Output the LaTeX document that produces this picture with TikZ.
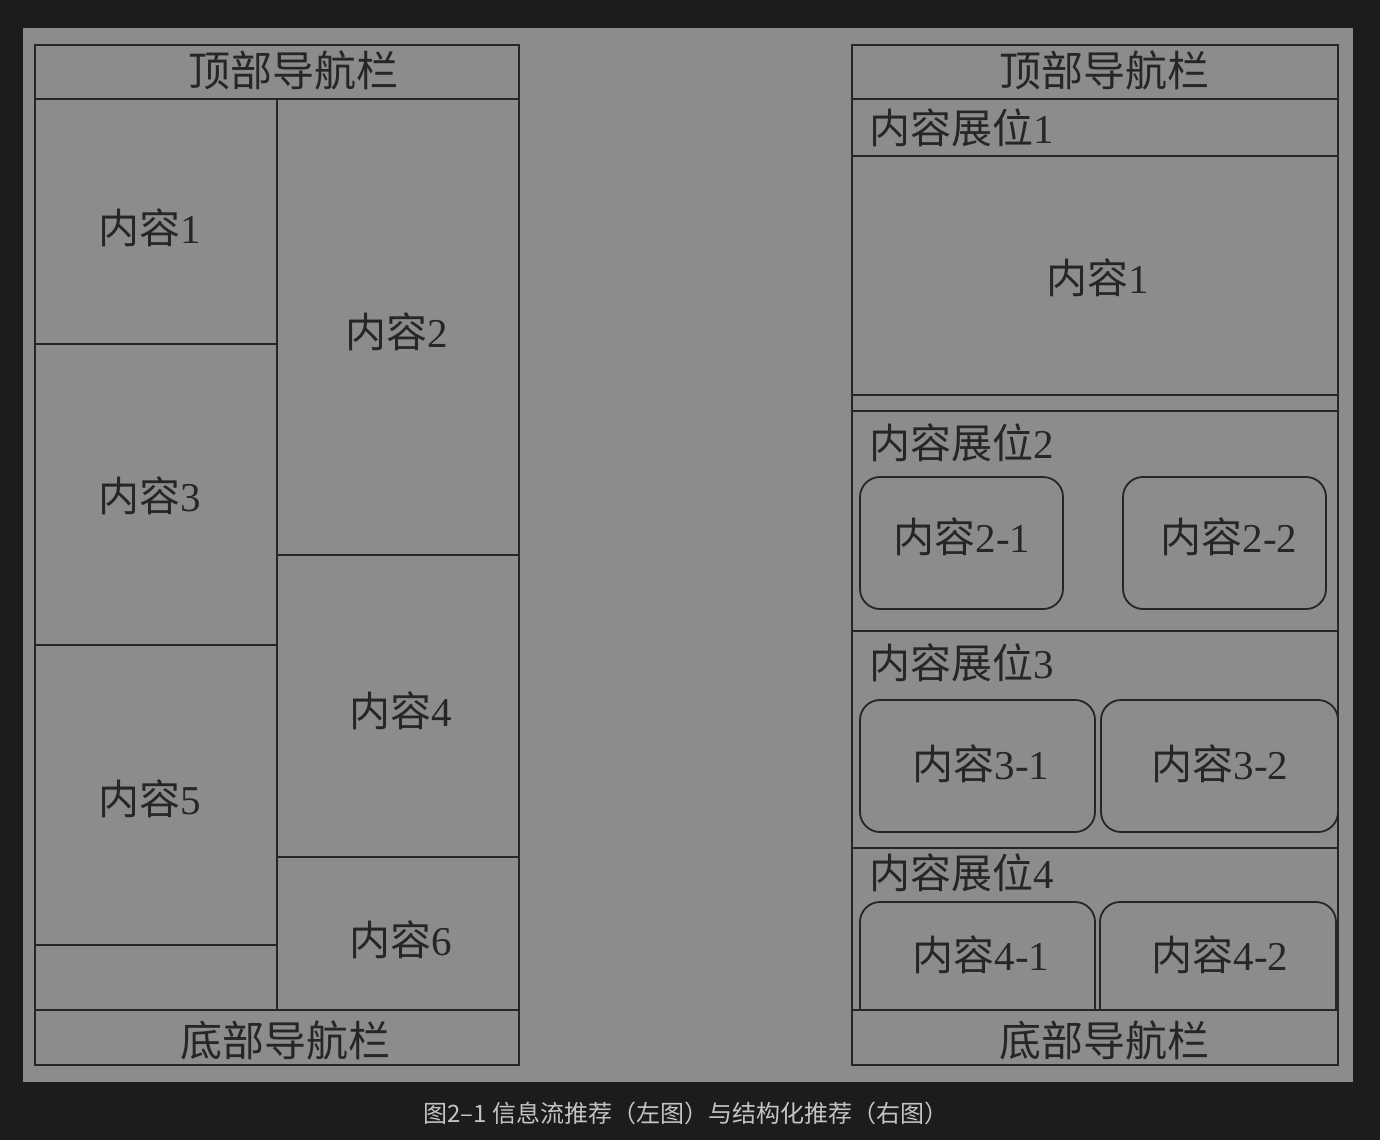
\documentclass[tikz,border=0pt]{standalone}
\usepackage{fontspec}
\setmainfont{Liberation Serif}
\newfontfamily\cjk{Noto Sans CJK SC}
\definecolor{bgdark}{HTML}{1C1C1C}
\definecolor{panel}{HTML}{8C8C8C}
\definecolor{ink}{HTML}{262626}
\definecolor{captxt}{HTML}{C4C4C4}
\begin{document}
\begin{tikzpicture}[x=1pt,y=-1pt,line width=1.8pt,draw=ink,
        lbl/.style={text=ink,inner sep=0pt,font=\fontsize{41}{41}\selectfont},
        navlbl/.style={lbl,font=\fontsize{42}{42}\selectfont}]
    \fill[bgdark] (0,0) rectangle (1380,1140);
    \fill[panel] (23,28) rectangle (1353,1082);
    % left: feed layout
    \draw (35,45) rectangle (519,1065);
    \draw (35,99) -- (519,99);
    \draw (35,1010) -- (519,1010);
    \draw (277,99) -- (277,1010);
    \foreach \y in {344,645,945}{
            \draw (35,\y) -- (277,\y);
        }
    \foreach \y in {555,857}{
            \draw (277,\y) -- (519,\y);
        }
    \node[navlbl] (ltop) at (293,70) {\cjk 顶部导航栏};
    \node[navlbl] (lbot) at (285,1040) {\cjk 底部导航栏};
    \foreach \n/\x/\y in {1/150/228,2/397/332,3/150/496,4/401/711,5/150/799,6/401/940}{
            \node[lbl] (l\n) at (\x,\y) {{\cjk 内容}\n};
        }
    % right: structured layout
    \draw (852,45) rectangle (1338,1065);
    \foreach \y in {99,156,395,411,631,848,1010}{
            \draw (852,\y) -- (1338,\y);
        }
    \node[navlbl] (rtop) at (1104,70) {\cjk 顶部导航栏};
    \node[navlbl] (rbot) at (1104,1040) {\cjk 底部导航栏};
    \foreach \n/\y in {1/128,2/443,3/663,4/873}{
            \node[lbl,anchor=west] (slot\n) at (869,\y) {{\cjk 内容展位}\n};
        }
    \node[lbl] (r1) at (1098,278) {{\cjk 内容}1};
    \foreach \a/\b/\c/\d in {860/477/1063/609,1123/477/1326/609,860/700/1095/832,1101/700/1338/832}{
            \draw[rounded corners=20pt] (\a,\b) rectangle (\c,\d);
        }
    \draw[rounded corners=20pt] (860,1010) -- (860,902) -- (1095,902) -- (1095,1010);
    \draw[rounded corners=20pt] (1100,1010) -- (1100,902) -- (1336,902) -- (1336,1010);
    \foreach \n/\x/\y in {2-1/962/537,2-2/1229/537,3-1/981/764,3-2/1220/764,4-1/981/955,4-2/1220/955}{
            \node[lbl] (r\n) at (\x,\y) {{\cjk 内容}\n};
        }
    % caption
    \node[text=captxt,font=\cjk\fontsize{24}{24}\selectfont] (cap) at (686,1113)
        {图2–1 信息流推荐（左图）与结构化推荐（右图）};
\end{tikzpicture}
\end{document}
